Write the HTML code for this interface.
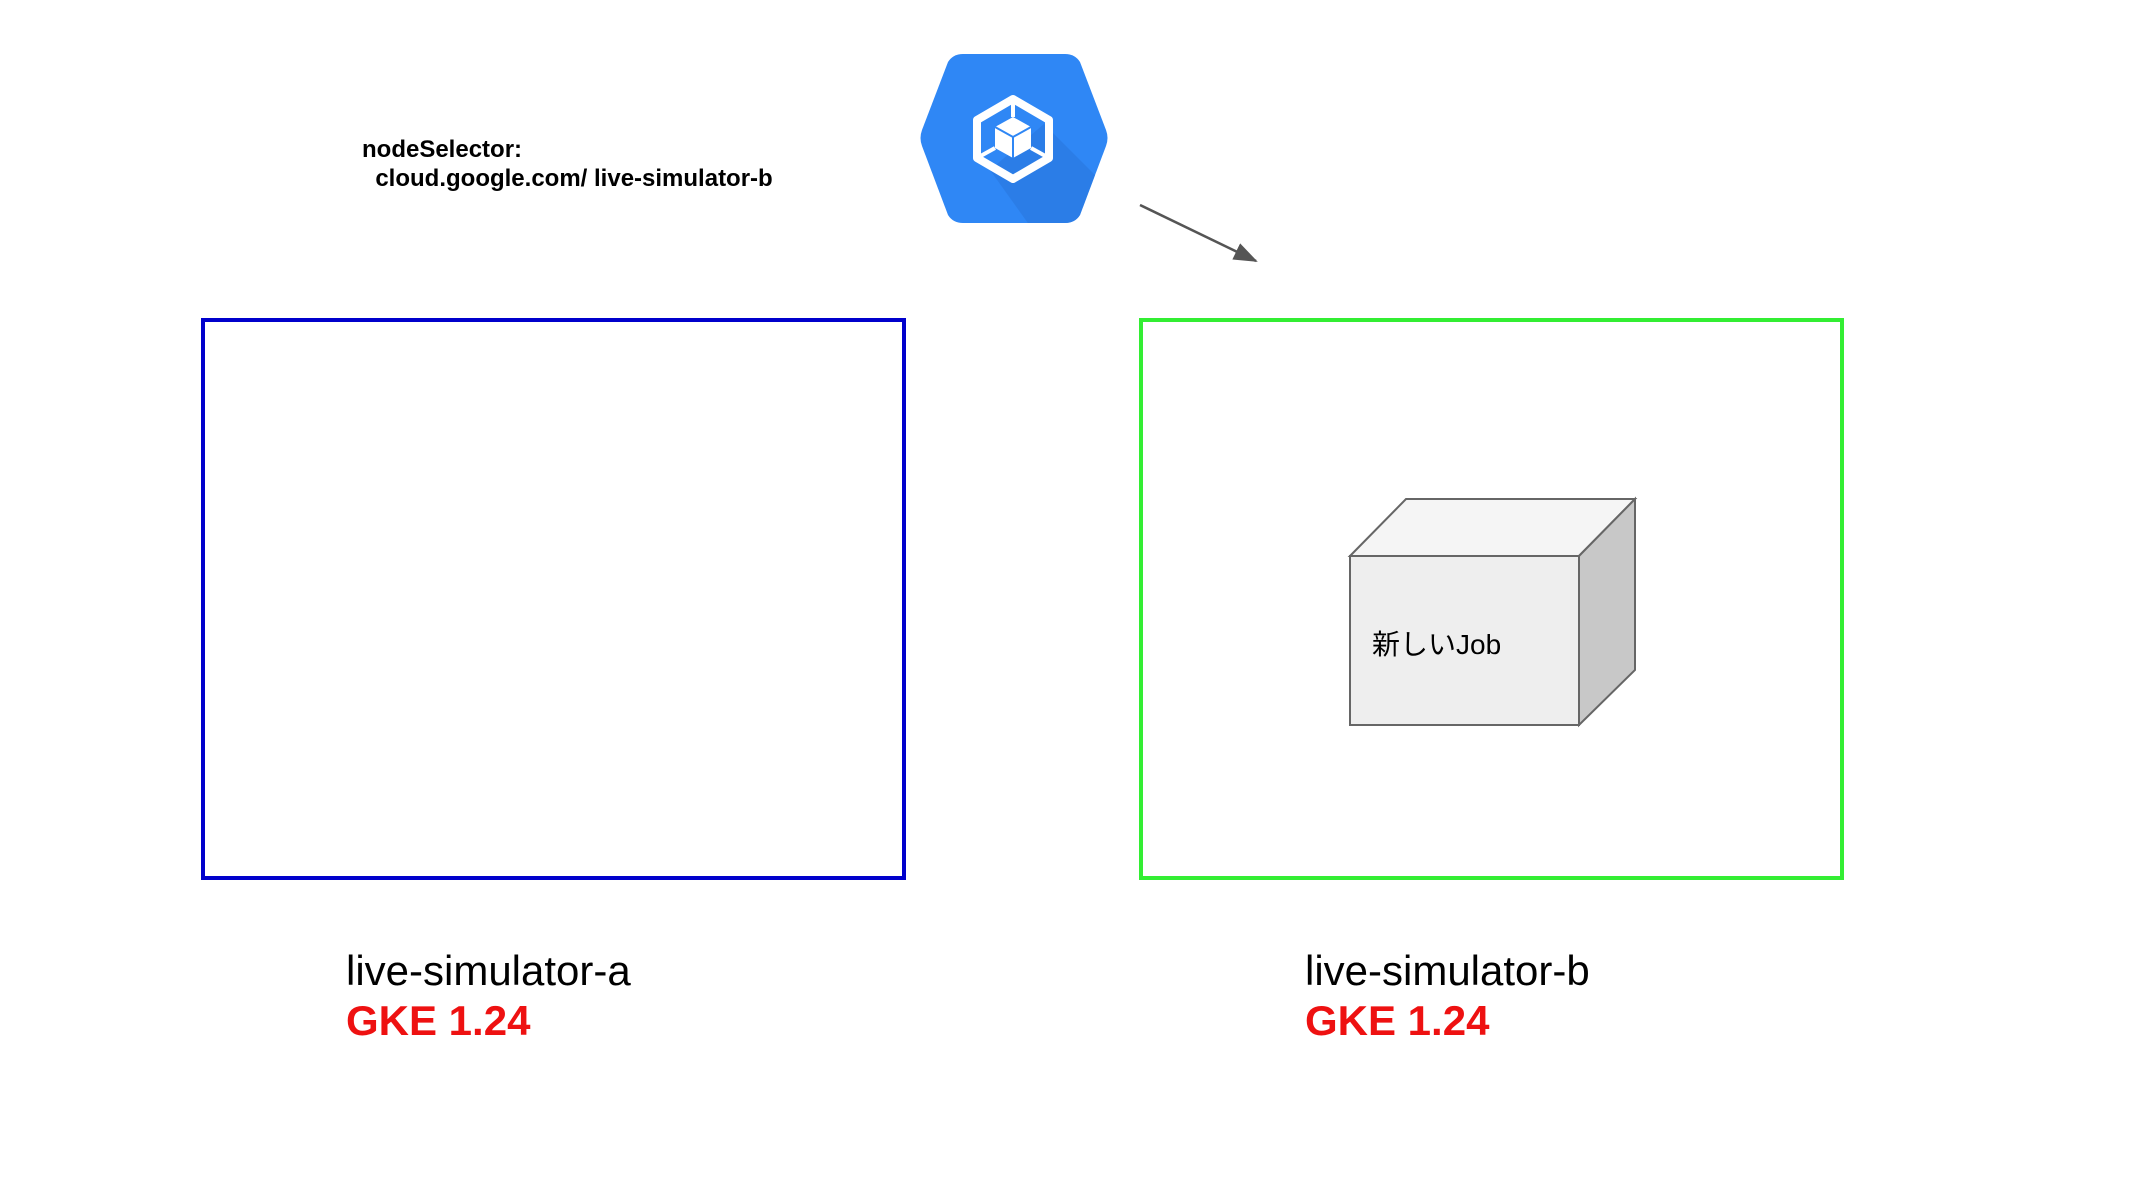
<!DOCTYPE html>
<html><head><meta charset="utf-8"><style>
body{margin:0;width:2155px;height:1200px;background:#fff;overflow:hidden;position:relative;font-family:"Liberation Sans","Noto Sans CJK JP",sans-serif}
.t{position:absolute;white-space:nowrap}
</style></head><body>
<svg width="2155" height="1200" style="position:absolute;left:0;top:0">
<defs>
<marker id="ah" markerWidth="24" markerHeight="18" refX="22" refY="9" orient="auto" markerUnits="userSpaceOnUse"><path d="M0,0 L24,9 L0,18 Z" fill="#555"/></marker>
<clipPath id="hc"><path d="M963,54 L1065,54 Q1075,54 1080,62 L1106,130 Q1109,138 1106,146 L1080,215 Q1075,223 1065,223 L963,223 Q953,223 948,215 L922,146 Q919,138 922,130 L948,62 Q953,54 963,54 Z"/></clipPath>
</defs>
<path d="M963,54 L1065,54 Q1075,54 1080,62 L1106,130 Q1109,138 1106,146 L1080,215 Q1075,223 1065,223 L963,223 Q953,223 948,215 L922,146 Q919,138 922,130 L948,62 Q953,54 963,54 Z" fill="#2f87f5"/>
<path d="M1044,124 L1120,200 L1120,240 L1040,240 L990,170 Z" fill="#2a7be4" opacity="0.8" clip-path="url(#hc)"/>
<polygon points="1013,99 1049,120 1049,158 1013,179 977,158 977,120" fill="none" stroke="#fff" stroke-width="8" stroke-linejoin="round"/>
<polygon points="1013,117 1031,127 1031,148 1013,158 995,148 995,127" fill="#fff"/>
<path d="M995,127 L1013,137 L1031,127 M1013,137 L1013,158" stroke="#2f87f5" stroke-width="2" fill="none"/>
<line x1="1013" y1="99" x2="1013" y2="117" stroke="#fff" stroke-width="4"/>
<line x1="977" y1="158" x2="995" y2="148" stroke="#fff" stroke-width="4"/>
<line x1="1049" y1="158" x2="1031" y2="148" stroke="#fff" stroke-width="4"/>
<line x1="1140" y1="205" x2="1256" y2="261" stroke="#555" stroke-width="2.5" marker-end="url(#ah)"/>
<rect x="203" y="320" width="701" height="558" fill="none" stroke="#0000cc" stroke-width="4"/>
<rect x="1141" y="320" width="701" height="558" fill="none" stroke="#33ee33" stroke-width="4"/>
<polygon points="1350,556 1406,499 1635,499 1579,556" fill="#f5f5f5" stroke="#666" stroke-width="2"/>
<polygon points="1579,556 1635,499 1635,670 1579,725" fill="#c8c8c8" stroke="#666" stroke-width="2"/>
<rect x="1350" y="556" width="229" height="169" fill="#eee" stroke="#666" stroke-width="2"/>
</svg>
<div class="t" style="left:362px;top:135px;font-size:24px;font-weight:bold;line-height:29px">nodeSelector:<br>&nbsp;&nbsp;cloud.google.com/ live-simulator-b</div>
<div class="t" style="left:1372px;top:623px;font-size:28px">新しいJob</div>
<div class="t" style="left:346px;top:946px;font-size:42px;line-height:50px">live-simulator-a<br><b style="color:#ee1111">GKE 1.24</b></div>
<div class="t" style="left:1305px;top:946px;font-size:42px;line-height:50px">live-simulator-b<br><b style="color:#ee1111">GKE 1.24</b></div>
</body></html>
